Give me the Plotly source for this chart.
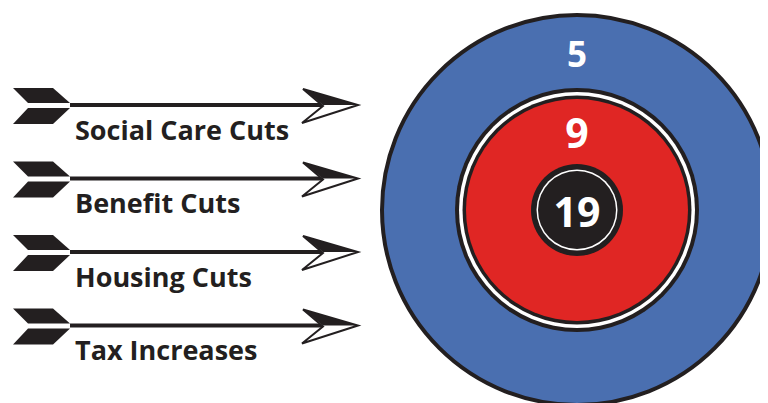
import plotly.graph_objects as go

# dados do infográfico
LABELS = ["Social Care Cuts", "Benefit Cuts", "Housing Cuts", "Tax Increases"]
SCORES = [5, 9, 19]  # anel externo, anel do meio, centro

BLUE = "#4a6fb0"
RED = "#e02624"
DARK = "#231f20"
FONT = "Open Sans"

W, H = 768, 403
PAGE_MARGIN = 8  # margem padrão do <body> no navegador
CX, CY = 577, 210
ARROW_Y0, ARROW_STEP = 105, 73.5


def disc(r, color, line_w=0):
    # círculo centrado no alvo, em coordenadas de dados
    return dict(type="circle", xref="x", yref="y",
                x0=CX - r, x1=CX + r, y0=CY - r, y1=CY + r,
                fillcolor=color, line=dict(color=DARK, width=line_w), layer="below")


def arrow_shapes(y):
    # penas, haste e ponta de uma flecha
    feather_top = f"M 13,{y-17} L 53,{y-17} L 70,{y-2} L 28,{y-2} Z"
    feather_bot = f"M 28,{y+3} L 70,{y+3} L 53,{y+19} L 13,{y+19} Z"
    head = f"M 303,{y-16} L 358,{y} L 302,{y+18} L 323,{y+1} Z"
    head_top = f"M 303,{y-16} L 358,{y} L 323,{y} Z"
    return [
        dict(type="path", path=feather_top, fillcolor=DARK, line=dict(width=0)),
        dict(type="path", path=feather_bot, fillcolor=DARK, line=dict(width=0)),
        dict(type="line", x0=70, x1=326, y0=y, y1=y, line=dict(color=DARK, width=4)),
        dict(type="path", path=head, fillcolor="white", line=dict(color=DARK, width=2)),
        dict(type="path", path=head_top, fillcolor=DARK, line=dict(width=0)),
    ]


shapes = [
    disc(195, BLUE, 4),
    disc(122, DARK),
    disc(118, "white"),
    disc(114.5, DARK),
    disc(111, RED),
    disc(46, DARK),
    disc(40.5, "white"),
    disc(39, DARK),
]
arrow_y = [ARROW_Y0 + i * ARROW_STEP for i in range(len(LABELS))]
for y in arrow_y:
    for s in arrow_shapes(y):
        s.update(xref="x", yref="y")
        shapes.append(s)

fig = go.Figure()

fig.add_trace(go.Scatter(
    x=[75] * len(LABELS),
    y=[y + 28 for y in arrow_y],
    mode="text",
    text=[f"<b>{t}</b>" for t in LABELS],
    textposition="middle right",
    textfont=dict(family=FONT, size=27, color=DARK),
    hoverinfo="skip",
    showlegend=False,
))

fig.add_trace(go.Scatter(
    x=[CX] * len(SCORES),
    y=[58, 138, 217],
    mode="text",
    text=[f"<b>{v}</b>" for v in SCORES],
    textposition="middle center",
    textfont=dict(family=FONT, size=[35, 41, 41], color="white"),
    hoverinfo="skip",
    showlegend=False,
))

fig.update_layout(
    width=W, height=H,
    autosize=False,
    margin=dict(l=0, r=0, t=0, b=0),
    paper_bgcolor="white",
    plot_bgcolor="white",
    shapes=shapes,
    xaxis=dict(range=[PAGE_MARGIN, W + PAGE_MARGIN], visible=False, fixedrange=True),
    yaxis=dict(range=[H + PAGE_MARGIN, PAGE_MARGIN], visible=False, fixedrange=True),
)

fig.write_html("out.html")
